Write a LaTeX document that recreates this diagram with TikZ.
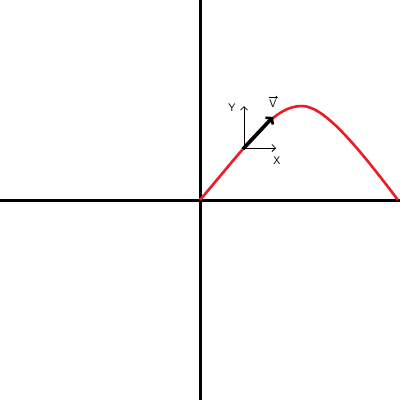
\documentclass[tikz,border=0pt]{standalone}
\usetikzlibrary{arrows.meta}
\definecolor{curvered}{RGB}{237,28,36}
\tikzset{
  axisline/.style={line width=3pt, black},
  traj/.style={line width=2.6pt, curvered},
  smallaxis/.style={line width=0.8pt, black, -{Straight Barb[length=3.5pt,width=7pt]}},
  vecarrow/.style={line width=3.6pt, black, -{Straight Barb[length=4pt,width=10pt,line width=2.6pt]}},
  vecbar/.style={line width=0.7pt, black, -{Straight Barb[length=1.5pt,width=3pt]}},
  lbl/.style={font=\sffamily\fontsize{11}{11}\selectfont, inner sep=0pt}
}
\begin{document}
\begin{tikzpicture}[x=1pt,y=-1pt]
\useasboundingbox (0,0) rectangle (400,400);
\coordinate (top) at (200,0);
\coordinate (bottom) at (200,400);
\coordinate (left) at (0,200);
\coordinate (right) at (400,200);
\coordinate (O) at (200,200);
\coordinate (peak) at (302,106);
\coordinate (end) at (398,200);
\coordinate (P) at (243,149);
\coordinate (ytip) at (244,106);
\coordinate (xtip) at (276,148);
\coordinate (vtip) at (273,117);
\draw[axisline] (top) -- (bottom);
\draw[axisline] (left) -- (right);
\draw[traj] (O) .. controls (255,135) and (275,106) .. (peak)
  .. controls (325,106) and (360,150) .. (end);
\draw[smallaxis] (244,148) -- (ytip);
\draw[smallaxis] (244,148) -- (xtip);
\draw[vecarrow] (P) -- (vtip);
\node[lbl] (ylab) at (232,108) {Y};
\node[lbl] (xlab) at (277,161) {X};
\node[lbl] (vlab) at (273,104) {V};
\draw[vecbar] ([xshift=-0.5pt,yshift=2.5pt]vlab.north west) -- ([xshift=1pt,yshift=2.5pt]vlab.north east);
\end{tikzpicture}
\end{document}
